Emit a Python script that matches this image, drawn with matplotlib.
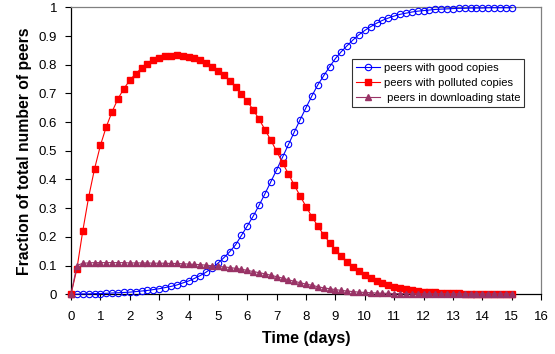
import numpy as np
import matplotlib
matplotlib.use("Agg")
import matplotlib.pyplot as plt

plt.rcParams["font.family"] = ["Liberation Sans", "DejaVu Sans"]

# sample times (days), one point every 0.2 day from 0 to 15
days = np.round(np.arange(76) * 0.2, 1)

good = [0.000, 0.000, 0.001, 0.001, 0.002, 0.002, 0.003, 0.004, 0.005, 0.006,
        0.007, 0.009, 0.011, 0.013, 0.016, 0.019, 0.023, 0.027, 0.032, 0.039,
        0.046, 0.055, 0.065, 0.077, 0.092, 0.108, 0.127, 0.148, 0.172, 0.205,
        0.238, 0.272, 0.310, 0.350, 0.392, 0.434, 0.478, 0.522, 0.566, 0.609,
        0.651, 0.692, 0.730, 0.762, 0.793, 0.822, 0.846, 0.867, 0.887, 0.905,
        0.920, 0.933, 0.945, 0.955, 0.963, 0.970, 0.976, 0.980, 0.984, 0.987,
        0.989, 0.991, 0.993, 0.994, 0.995, 0.996, 0.997, 0.997, 0.998, 0.998,
        0.998, 0.999, 0.999, 0.999, 0.999, 0.999]

polluted = [0.000, 0.089, 0.221, 0.339, 0.437, 0.519, 0.584, 0.637, 0.682, 0.717,
            0.746, 0.769, 0.788, 0.803, 0.815, 0.823, 0.829, 0.832, 0.833, 0.831,
            0.828, 0.822, 0.815, 0.806, 0.794, 0.780, 0.764, 0.745, 0.723, 0.698,
            0.672, 0.643, 0.610, 0.574, 0.537, 0.498, 0.458, 0.419, 0.380, 0.342,
            0.305, 0.270, 0.237, 0.207, 0.180, 0.155, 0.133, 0.113, 0.096, 0.081,
            0.068, 0.057, 0.047, 0.039, 0.032, 0.026, 0.021, 0.017, 0.014, 0.011,
            0.009, 0.007, 0.006, 0.005, 0.004, 0.003, 0.003, 0.002, 0.002, 0.002,
            0.001, 0.001, 0.001, 0.001, 0.001, 0.001]

downloading = [0.000, 0.100, 0.108, 0.109, 0.110, 0.110, 0.110, 0.110, 0.110, 0.110,
               0.109, 0.109, 0.109, 0.109, 0.108, 0.108, 0.108, 0.107, 0.107, 0.106,
               0.105, 0.104, 0.103, 0.101, 0.099, 0.097, 0.095, 0.093, 0.090, 0.087,
               0.083, 0.079, 0.075, 0.071, 0.066, 0.061, 0.056, 0.050, 0.045, 0.040,
               0.035, 0.031, 0.026, 0.022, 0.019, 0.016, 0.013, 0.011, 0.009, 0.007,
               0.006, 0.005, 0.004, 0.003, 0.003, 0.002, 0.002, 0.002, 0.001, 0.001,
               0.001, 0.001, 0.001, 0.001, 0.001, 0.001, 0.001, 0.001, 0.001, 0.001,
               0.001, 0.001, 0.001, 0.001, 0.001, 0.001]

labels = ["peers with good copies", "peers with polluted copies",
          " peers in downloading state"]

fig = plt.figure(figsize=(5.55, 3.54), dpi=100)
ax = fig.add_axes([0.128, 0.169, 0.847, 0.81])

ax.plot(days, good, color="#0000FF", lw=0.8, marker="o", ms=4.6,
        mfc="none", mec="#0000FF", mew=0.8, label=labels[0], clip_on=False, zorder=3)
ax.plot(days, polluted, color="#FF0000", lw=0.8, marker="s", ms=4.8,
        mfc="#FF0000", mec="#FF0000", label=labels[1], clip_on=False, zorder=4)
ax.plot(days, downloading, color="#993366", lw=0.8, marker="^", ms=5,
        mfc="#993366", mec="#993366", label=labels[2], clip_on=False, zorder=5)

ax.set_xlim(0, 16)
ax.set_ylim(0, 1)
ax.set_xticks(range(0, 17))
ax.set_yticks(np.round(np.arange(0, 1.01, 0.1), 1))
ax.set_yticklabels(["0", "0.1", "0.2", "0.3", "0.4", "0.5", "0.6", "0.7", "0.8", "0.9", "1"])
ax.tick_params(direction="out", length=4, width=0.8, labelsize=9.5, colors="black")
ax.tick_params(axis="x", pad=8)
ax.tick_params(axis="y", pad=6)

for side in ["left", "bottom"]:
    ax.spines[side].set_color("black")
    ax.spines[side].set_linewidth(0.9)
for side in ["top", "right"]:
    ax.spines[side].set_color("#808080")
    ax.spines[side].set_linewidth(0.9)

ax.set_xlabel("Time (days)", fontsize=11.5, fontweight="bold", labelpad=6)
ax.set_ylabel("Fraction of total number of peers", fontsize=11.3, fontweight="bold", labelpad=5)

leg = ax.legend(loc="upper left", bbox_to_anchor=(0.598, 0.82), fontsize=8,
                frameon=True, fancybox=False, shadow=False, borderpad=0.35,
                labelspacing=0.45, handlelength=2.2, handletextpad=0.3,
                borderaxespad=0)
leg.get_frame().set_edgecolor("black")
leg.get_frame().set_linewidth(0.8)

fig.savefig("out.png", dpi=100)
